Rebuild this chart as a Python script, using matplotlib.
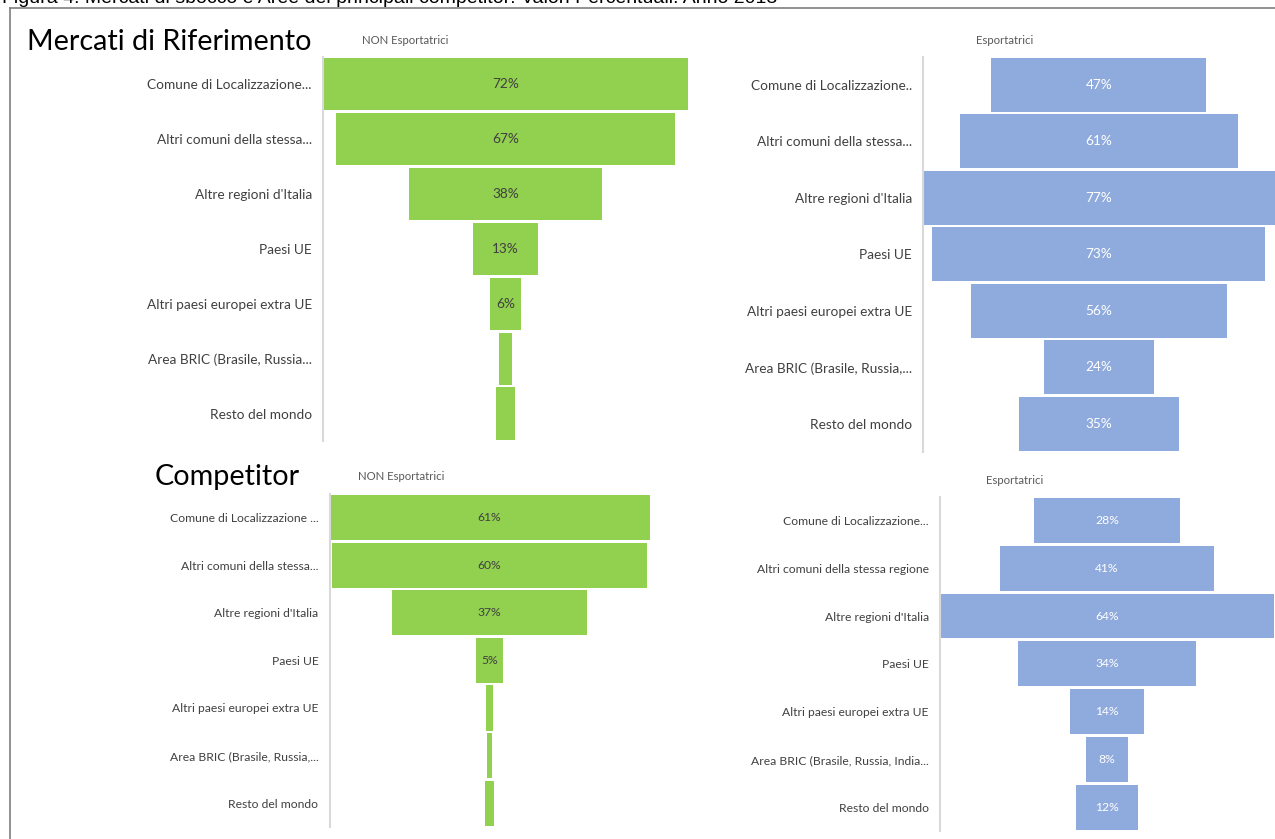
import matplotlib.pyplot as plt
from matplotlib.lines import Line2D

plt.rcParams['font.family'] = ['Lato', 'DejaVu Sans']

# Etichette delle categorie (troncate come nel grafico originale)
labels_mercati_non = [
    "Comune di Localizzazione...", "Altri comuni della stessa...",
    "Altre regioni d'Italia", "Paesi UE", "Altri paesi europei extra UE",
    "Area BRIC (Brasile, Russia...", "Resto del mondo",
]
labels_mercati_exp = [
    "Comune di Localizzazione..", "Altri comuni della stessa...",
    "Altre regioni d'Italia", "Paesi UE", "Altri paesi europei extra UE",
    "Area BRIC (Brasile, Russia,...", "Resto del mondo",
]
labels_comp_non = [
    "Comune di Localizzazione ...", "Altri comuni della stessa...",
    "Altre regioni d'Italia", "Paesi UE", "Altri paesi europei extra UE",
    "Area BRIC (Brasile, Russia,...", "Resto del mondo",
]
labels_comp_exp = [
    "Comune di Localizzazione...", "Altri comuni della stessa regione",
    "Altre regioni d'Italia", "Paesi UE", "Altri paesi europei extra UE",
    "Area BRIC (Brasile, Russia, India...", "Resto del mondo",
]

# Valori percentuali
mercati_non = [72, 67, 38, 13, 6, 2.4, 3.6]
mercati_exp = [47, 61, 77, 73, 56, 24, 35]
comp_non = [61, 60, 37, 5, 1.5, 1.0, 1.7]
comp_exp = [28, 41, 64, 34, 14, 8, 12]

GREEN = "#92D050"
BLUE = "#8FAADC"

W, H = 1275, 839
fig = plt.figure(figsize=(W / 100, H / 100), dpi=100)


def px_axes(x0, y0, x1, y1):
    return fig.add_axes([x0 / W, 1 - y1 / H, (x1 - x0) / W, (y1 - y0) / H])


def funnel(box, values, labels, color, txtcolor, height, fs):
    ax = px_axes(*box)
    m = max(values)
    n = len(values)
    left = [(m - v) / 2 for v in values]
    ax.barh(range(n), values, left=left, height=height, color=color)
    for i, v in enumerate(values):
        if v >= 5:
            ax.text(m / 2, i, f"{v:.0f}%", ha="center", va="center",
                    fontsize=fs, color=txtcolor)
    ax.set_xlim(0, m)
    ax.set_ylim(n - 0.5, -0.5)
    ax.set_yticks(range(n))
    ax.set_yticklabels(labels, fontsize=fs, color="#404040")
    ax.tick_params(axis="y", length=0, pad=8)
    ax.set_xticks([])
    for s in ["top", "right", "bottom"]:
        ax.spines[s].set_visible(False)
    ax.spines["left"].set_color("#D9D9D9")
    ax.spines["left"].set_linewidth(1.5)
    ax.patch.set_alpha(0)
    return ax


funnel((323, 56.6, 688, 441), mercati_non, labels_mercati_non, GREEN, "#404040", 0.95, 9.8)
funnel((923, 56.6, 1274.5, 452), mercati_exp, labels_mercati_exp, BLUE, "white", 0.95, 9.8)
funnel((329.5, 493.8, 649.5, 827), comp_non, labels_comp_non, GREEN, "#404040", 0.95, 8.7)
funnel((940, 496.6, 1274, 831), comp_exp, labels_comp_exp, BLUE, "white", 0.94, 8.7)

# titoli dei pannelli
fig.text(405 / W, 1 - 40 / H, "NON Esportatrici", ha="center", va="center", fontsize=8.2, color="#595959")
fig.text(1005 / W, 1 - 40 / H, "Esportatrici", ha="center", va="center", fontsize=8.2, color="#595959")
fig.text(401 / W, 1 - 477 / H, "NON Esportatrici", ha="center", va="center", fontsize=8.2, color="#595959")
fig.text(1015 / W, 1 - 481 / H, "Esportatrici", ha="center", va="center", fontsize=8.2, color="#595959")

fig.text(27 / W, 1 - 42 / H, "Mercati di Riferimento", ha="left", va="center", fontsize=20.7, color="black")
fig.text(155 / W, 1 - 477 / H, "Competitor", ha="left", va="center", fontsize=20.7, color="black")

# didascalia tagliata in alto
fig.text(2 / W, 1 - 3 / H, "Figura 4: Mercati di sbocco e Aree dei principali competitor: Valori Percentuali. Anno 2013",
         ha="left", va="baseline", fontsize=14, color="black", family="Liberation Sans")

# cornice
fig.add_artist(Line2D([10 / W, 1], [1 - 8 / H, 1 - 8 / H], color="#7F7F7F", lw=1.2))
fig.add_artist(Line2D([10 / W, 10 / W], [0, 1 - 8 / H], color="#7F7F7F", lw=1.2))

fig.savefig("out.png", dpi=100)
